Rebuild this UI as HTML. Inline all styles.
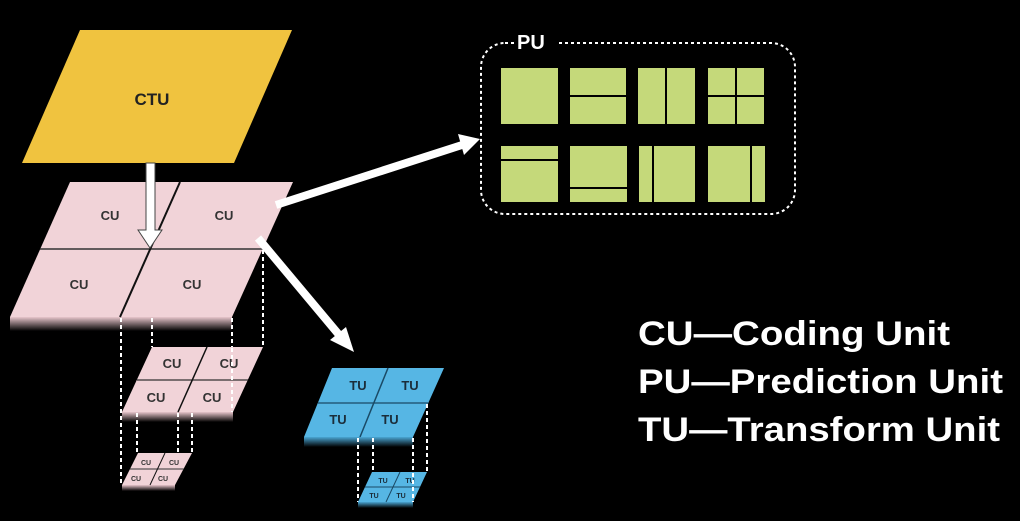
<!DOCTYPE html>
<html><head><style>
html,body{margin:0;padding:0;background:#000;width:1020px;height:521px;overflow:hidden}
svg{display:block}
text{font-family:"Liberation Sans",sans-serif;font-weight:bold}
</style></head><body>
<svg width="1020" height="521" viewBox="0 0 1020 521" xmlns="http://www.w3.org/2000/svg">
<defs>
<linearGradient id="shp" x1="0" y1="0" x2="0" y2="1"><stop offset="0" stop-color="#e8c6cc"/><stop offset="1" stop-color="#000"/></linearGradient>
<linearGradient id="shb" x1="0" y1="0" x2="0" y2="1"><stop offset="0" stop-color="#4aa6d4"/><stop offset="1" stop-color="#000"/></linearGradient>
</defs>
<polygon points="80,30 292,30 234,163 22,163" fill="#f0c33f"/>
<text x="152" y="105" font-size="17" fill="#222" text-anchor="middle">CTU</text>

<rect x="10" y="317" width="222" height="14" fill="url(#shp)"/>
<polygon points="70,182 293,182 232,317 10,317" fill="#f1d3d8"/>
<line x1="40" y1="249" x2="263" y2="249" stroke="#333" stroke-width="1.5"/>
<line x1="180" y1="182" x2="120" y2="317" stroke="#111" stroke-width="2"/>
<g font-size="13" fill="#333" text-anchor="middle">
<text x="110" y="220">CU</text><text x="224" y="220">CU</text>
<text x="79" y="289">CU</text><text x="192" y="289">CU</text></g>

<g stroke="#fff" stroke-width="2" stroke-dasharray="4,3">
<line x1="121" y1="318" x2="121" y2="486"/>
<line x1="152" y1="318" x2="152" y2="347"/>
<line x1="232" y1="318" x2="232" y2="347"/>
<line x1="263" y1="250" x2="263" y2="347"/>
</g>
<rect x="122" y="412" width="111" height="10" fill="url(#shp)"/>
<polygon points="152,347 263,347 233,412 122,412" fill="#f1d3d8"/>
<line x1="137" y1="380" x2="248" y2="380" stroke="#333" stroke-width="1.3"/>
<line x1="207" y1="347" x2="178" y2="412" stroke="#111" stroke-width="1.5"/>
<g font-size="13" fill="#333" text-anchor="middle">
<text x="172" y="368">CU</text><text x="229" y="368">CU</text>
<text x="156" y="402">CU</text><text x="212" y="402">CU</text></g>
<g stroke="#fff" stroke-width="2" stroke-dasharray="4,3">
<line x1="232" y1="348" x2="232" y2="412"/>
<line x1="137" y1="413" x2="137" y2="455"/>
<line x1="178" y1="413" x2="178" y2="455"/>
<line x1="192" y1="413" x2="192" y2="455"/>
</g>
<rect x="122" y="485" width="53" height="6" fill="url(#shp)"/>
<polygon points="138,453 192,453 175,485 122,485" fill="#f1d3d8"/>
<line x1="130" y1="469" x2="184" y2="469" stroke="#333"/>
<line x1="165" y1="453" x2="150" y2="485" stroke="#111"/>
<g font-size="7" fill="#333" text-anchor="middle">
<text x="146" y="465">CU</text><text x="174" y="465">CU</text>
<text x="136" y="481">CU</text><text x="163" y="481">CU</text></g>

<rect x="304" y="437" width="109" height="10" fill="url(#shb)"/>
<polygon points="332,368 444,368 413,437 304,437" fill="#56b6e4"/>
<line x1="318" y1="403" x2="428" y2="403" stroke="#1a4a66" stroke-width="1.3"/>
<line x1="388" y1="368" x2="360" y2="437" stroke="#1a4a66" stroke-width="1.5"/>
<g font-size="13" fill="#1b2d3a" text-anchor="middle">
<text x="358" y="390">TU</text><text x="410" y="390">TU</text>
<text x="338" y="424">TU</text><text x="390" y="424">TU</text></g>
<g stroke="#fff" stroke-width="2" stroke-dasharray="4,3">
<line x1="358" y1="438" x2="358" y2="502"/>
<line x1="373" y1="438" x2="373" y2="472"/>
<line x1="427" y1="404" x2="427" y2="472"/>
</g>
<rect x="358" y="502" width="55" height="6" fill="url(#shb)"/>
<polygon points="372,472 427,472 413,502 358,502" fill="#56b6e4"/>
<line x1="365" y1="487" x2="420" y2="487" stroke="#1a4a66"/>
<line x1="400" y1="472" x2="386" y2="502" stroke="#1a4a66"/>
<g font-size="7" fill="#1b2d3a" text-anchor="middle">
<text x="383" y="483">TU</text><text x="410" y="483">TU</text>
<text x="374" y="498">TU</text><text x="401" y="498">TU</text></g>
<line x1="413" y1="438" x2="413" y2="502" stroke="#fff" stroke-width="2" stroke-dasharray="4,3"/>

<polygon points="146,163 155,163 155,230 162,230 150,248 138,230 146,230" fill="#fff" stroke="#444" stroke-width="1"/>
<line x1="276" y1="205" x2="462" y2="145" stroke="#fff" stroke-width="8"/>
<polygon points="480,139 458,134 464,155" fill="#fff"/>
<line x1="258" y1="238" x2="340" y2="336" stroke="#fff" stroke-width="8"/>
<polygon points="354,352 330,340 346,327" fill="#fff"/>

<rect x="481" y="43" width="314" height="171" rx="24" fill="none" stroke="#fff" stroke-width="2" stroke-dasharray="3,3"/>
<rect x="514" y="30" width="44" height="24" fill="#000"/>
<text x="517" y="49" font-size="20" fill="#fff">PU</text>
<g fill="#c5d97a" stroke="#000" stroke-width="2">
<rect x="500" y="67" width="59" height="58"/>
<rect x="569" y="67" width="58" height="29"/><rect x="569" y="96" width="58" height="29"/>
<rect x="637" y="67" width="29" height="58"/><rect x="666" y="67" width="30" height="58"/>
<rect x="707" y="67" width="29" height="29"/><rect x="736" y="67" width="29" height="29"/>
<rect x="707" y="96" width="29" height="29"/><rect x="736" y="96" width="29" height="29"/>
<rect x="500" y="145" width="59" height="15"/><rect x="500" y="160" width="59" height="43"/>
<rect x="569" y="145" width="59" height="43"/><rect x="569" y="188" width="59" height="15"/>
<rect x="638" y="145" width="15" height="58"/><rect x="653" y="145" width="43" height="58"/>
<rect x="707" y="145" width="44" height="58"/><rect x="751" y="145" width="15" height="58"/>
</g>

<g font-size="34" fill="#fff" lengthAdjust="spacingAndGlyphs">
<text x="638" y="345" textLength="312" lengthAdjust="spacingAndGlyphs">CU—Coding Unit</text>
<text x="638" y="393" textLength="365" lengthAdjust="spacingAndGlyphs">PU—Prediction Unit</text>
<text x="638" y="441" textLength="362" lengthAdjust="spacingAndGlyphs">TU—Transform Unit</text>
</g>
</svg>
</body></html>
